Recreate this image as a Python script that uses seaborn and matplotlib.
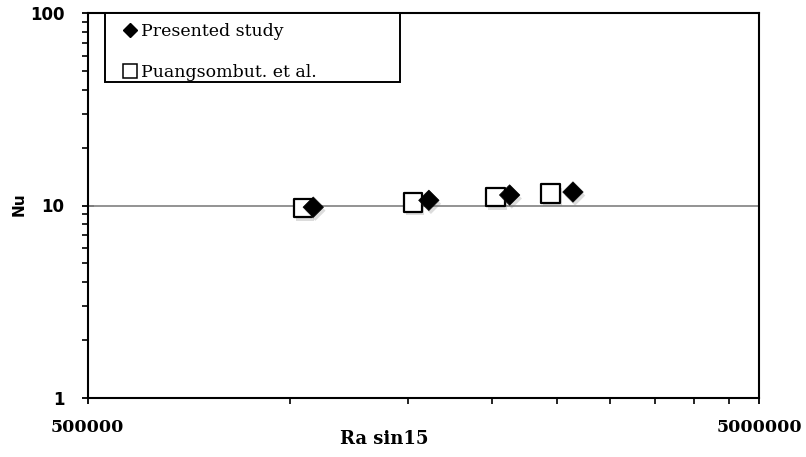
import matplotlib
matplotlib.use("Agg")
import matplotlib.pyplot as plt
import matplotlib.patheffects as pe
from matplotlib.lines import Line2D
from matplotlib.patches import Rectangle
from matplotlib.ticker import FixedLocator, NullFormatter, LogLocator
import numpy as np
import pandas as pd
import seaborn as sns

# Nusselt number vs. Ra*sin(15 deg)
present_ra = [1.084e6, 1.611e6, 2.125e6, 2.640e6]
present_nu = [9.80, 10.64, 11.34, 11.75]
ref_ra = [1.046e6, 1.526e6, 2.025e6, 2.443e6]
ref_nu = [9.73, 10.39, 11.07, 11.57]

series_names = ["Presented study", "Puangsombut. et al."]
x_ticks = [500000, 5000000]
y_ticks = [1, 10, 100]

present = pd.DataFrame({"ra": present_ra, "nu": present_nu})
reference = pd.DataFrame({"ra": ref_ra, "nu": ref_nu})

sns.set_theme(style="white")
plt.rcParams["font.family"] = ["DejaVu Sans"]
plt.rcParams["text.color"] = "black"

W, H = 806, 457
fig = plt.figure(figsize=(W / 100, H / 100), dpi=100)
L, R, T, B = 87.5, 759.3, 13.3, 397.7
ax = fig.add_axes([L / W, 1 - B / H, (R - L) / W, (B - T) / H])

ax.set_xscale("log")
ax.set_yscale("log")
ax.set_xlim(x_ticks[0], x_ticks[-1])
ax.set_ylim(y_ticks[0], y_ticks[-1])

# single horizontal gridline at Nu = 10
ax.axhline(10, color="#8a8a8a", lw=1.3, zorder=1)

shadow = [pe.SimplePatchShadow(offset=(1.5, -2.5), shadow_rgbFace="#777777", alpha=0.25),
          pe.Normal()]

sns.scatterplot(data=reference, x="ra", y="nu", marker="s", s=178,
                facecolor="white", edgecolor="black", linewidth=1.6,
                ax=ax, zorder=3, legend=False)
sns.scatterplot(data=present, x="ra", y="nu", marker="D", s=108,
                color="black", edgecolor="black", linewidth=0.5,
                ax=ax, zorder=4, legend=False)
for coll in ax.collections:
    coll.set_path_effects(shadow)

# axes frame
for sp in ax.spines.values():
    sp.set_visible(True)
    sp.set_color("black")
    sp.set_linewidth(1.5)

# ticks
ax.xaxis.set_major_locator(FixedLocator(x_ticks))
ax.xaxis.set_minor_locator(FixedLocator([k * 500000 for k in range(2, 10)]))
ax.xaxis.set_minor_formatter(NullFormatter())
ax.set_xticklabels([str(v) for v in x_ticks])
ax.yaxis.set_major_locator(FixedLocator(y_ticks))
ax.yaxis.set_minor_locator(LogLocator(base=10, subs=np.arange(2, 10)))
ax.yaxis.set_minor_formatter(NullFormatter())
ax.set_yticklabels([str(v) for v in y_ticks])

ax.tick_params(axis="both", which="major", direction="inout", length=9, width=1.3,
               color="black", bottom=True, left=True, top=False, right=False)
ax.tick_params(axis="both", which="minor", direction="out", length=4.5, width=1.2,
               color="black", bottom=True, left=True, top=False, right=False)
ax.tick_params(axis="x", which="major", pad=11)
ax.tick_params(axis="y", which="major", pad=12)

for lab in ax.get_xticklabels():
    lab.set_fontfamily("DejaVu Serif")
    lab.set_fontweight("bold")
    lab.set_fontsize(12.5)
    lab.set_color("black")
for lab in ax.get_yticklabels():
    lab.set_fontfamily("DejaVu Sans")
    lab.set_fontweight("bold")
    lab.set_fontsize(12)
    lab.set_color("black")

ax.set_xlabel("Ra sin15", fontfamily="DejaVu Serif", fontweight="bold",
              fontsize=13, color="black")
ax.set_ylabel("Nu", fontfamily="DejaVu Sans", fontweight="bold",
              fontsize=11, color="black")
ax.xaxis.set_label_coords((384 - L) / (R - L), (B - 430) / (B - T))
ax.yaxis.set_label_coords((27 - L) / (R - L), (B - 204.5) / (B - T))

# legend box, drawn in figure pixels
box_l, box_t, box_r, box_b = 104.5, 13.3, 400.0, 82.0
fig.patches.append(Rectangle((box_l / W, 1 - box_b / H), (box_r - box_l) / W,
                             (box_b - box_t) / H, transform=fig.transFigure,
                             facecolor="white", edgecolor="black", lw=1.4, zorder=5))

handles = [
    Line2D([], [], marker="D", ls="none", ms=7.2, mfc="black", mec="black"),
    Line2D([], [], marker="s", ls="none", ms=10, mfc="white", mec="black", mew=1.1),
]
leg = fig.legend(handles, series_names, loc="upper left",
                 bbox_to_anchor=(122.2 / W, 1 - 22.9 / H),
                 bbox_transform=fig.transFigure, borderaxespad=0, borderpad=0,
                 prop={"family": "DejaVu Serif", "size": 12.5},
                 frameon=False, handlelength=0.9, handletextpad=0.2,
                 labelspacing=1.4)
leg.set_zorder(6)
for t in leg.get_texts():
    t.set_color("black")

fig.savefig("out.png", dpi=100)
